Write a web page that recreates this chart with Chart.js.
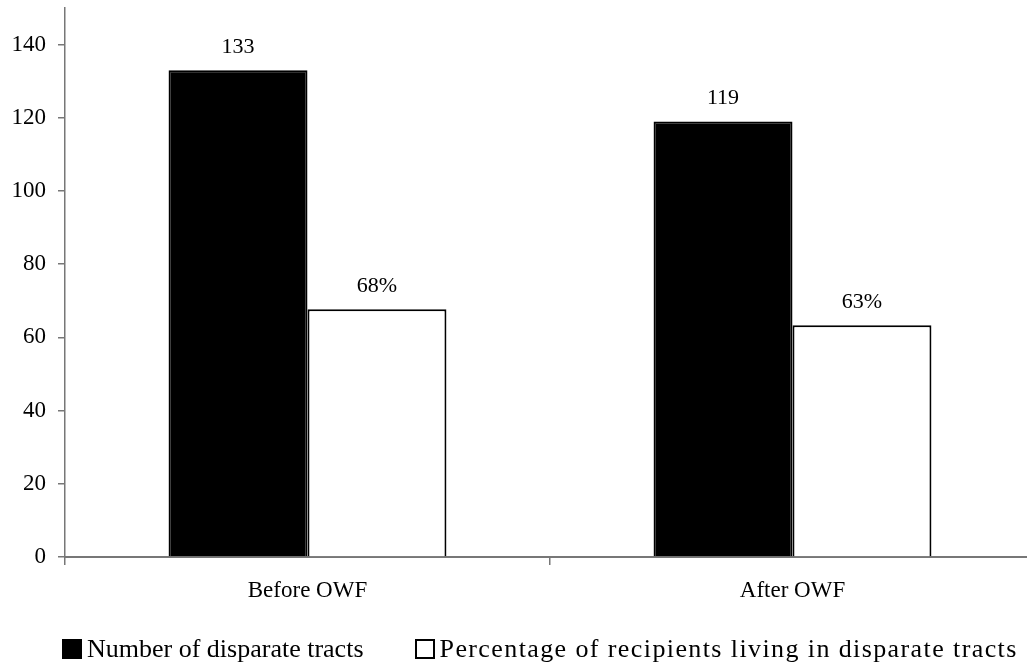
<!DOCTYPE html>
<html>
<head>
<meta charset="utf-8">
<script src="https://cdn.jsdelivr.net/npm/chart.js@4/dist/chart.umd.min.js"></script>
<style>
    body { margin: 0; background: #fff; overflow: hidden; }
    #wrap { position: relative; width: 1035px; height: 667px; }
    #legend {
        position: absolute;
        left: 62px;
        top: 634px;
        display: flex;
        align-items: center;
        font-family: "Liberation Serif", "Times New Roman", serif;
        font-size: 26px;
        color: #000;
        white-space: nowrap;
    }
    .item { display: flex; align-items: center; margin-right: 51px; }
    .item + .item span:last-child { letter-spacing: 1.4px; }
    .swatch { width: 16px; height: 16px; border: 2px solid #000; margin-right: 5px; }
</style>
</head>
<body>
<div id="wrap">
    <canvas id="chart" width="1035" height="667"></canvas>
    <div id="legend"></div>
</div>
<script>
// Data
const categories = ['Before OWF', 'After OWF'];
const seriesNames = ['Number of disparate tracts', 'Percentage of recipients living in disparate tracts'];
const disparateTracts = [133, 119];
const pctRecipients = [67.7, 63.3];
const valueLabels = [['133', '119'], ['68%', '63%']];
const fillColors = ['#000000', '#ffffff'];

const FONT = '"Liberation Serif", "Times New Roman", serif';

// Draws the value above each bar
const barLabels = {
    id: 'barLabels',
    afterDatasetsDraw(chart) {
        const ctx = chart.ctx;
        ctx.save();
        ctx.font = '22px ' + FONT;
        ctx.fillStyle = '#000';
        ctx.textAlign = 'center';
        ctx.textBaseline = 'alphabetic';
        chart.data.datasets.forEach((ds, i) => {
            chart.getDatasetMeta(i).data.forEach((bar, j) => {
                ctx.fillText(valueLabels[i][j], bar.x, bar.y - 17);
            });
        });
        ctx.restore();
    }
};

const chart = new Chart(document.getElementById('chart'), {
    type: 'bar',
    data: {
        labels: categories,
        datasets: [{
            label: seriesNames[0],
            data: disparateTracts,
            backgroundColor: fillColors[0],
            borderColor: '#000',
            borderWidth: 2,
            barPercentage: 1,
            categoryPercentage: 0.573
        }, {
            label: seriesNames[1],
            data: pctRecipients,
            backgroundColor: fillColors[1],
            borderColor: '#000',
            borderWidth: 2,
            barPercentage: 1,
            categoryPercentage: 0.573
        }]
    },
    options: {
        responsive: false,
        animation: false,
        layout: { padding: { top: 8, right: 0, left: 0, bottom: 0 } },
        plugins: {
            legend: { display: false },
            tooltip: { enabled: false }
        },
        scales: {
            x: {
                grid: {
                    display: true,
                    drawOnChartArea: false,
                    drawTicks: true,
                    tickLength: 8,
                    color: '#777',
                    lineWidth: 1.5
                },
                border: { color: '#777', width: 2 },
                ticks: {
                    color: '#000',
                    font: { family: FONT, size: 23 },
                    padding: 12
                },
                afterFit(scale) {
                    scale.height = 110;
                    scale.paddingLeft = 0;
                    scale.paddingRight = 0;
                }
            },
            y: {
                min: 0,
                max: 150,
                grid: {
                    display: true,
                    drawOnChartArea: false,
                    drawTicks: true,
                    tickLength: 7,
                    color: '#777',
                    lineWidth: 1.5
                },
                border: { color: '#777', width: 1.5 },
                ticks: {
                    stepSize: 20,
                    color: '#000',
                    font: { family: FONT, size: 23 },
                    padding: 12
                },
                afterBuildTicks(scale) {
                    scale.ticks = scale.ticks.filter(t => t.value <= 140);
                },
                afterFit(scale) {
                    scale.width = 65;
                    scale.paddingTop = 0;
                    scale.paddingBottom = 0;
                }
            }
        }
    },
    plugins: [barLabels]
});

// Legend built from the chart's datasets
const legend = document.getElementById('legend');
chart.data.datasets.forEach(ds => {
    const item = document.createElement('div');
    item.className = 'item';
    const sw = document.createElement('span');
    sw.className = 'swatch';
    sw.style.background = ds.backgroundColor;
    const txt = document.createElement('span');
    txt.textContent = ds.label;
    item.appendChild(sw);
    item.appendChild(txt);
    legend.appendChild(item);
});
</script>
</body>
</html>
